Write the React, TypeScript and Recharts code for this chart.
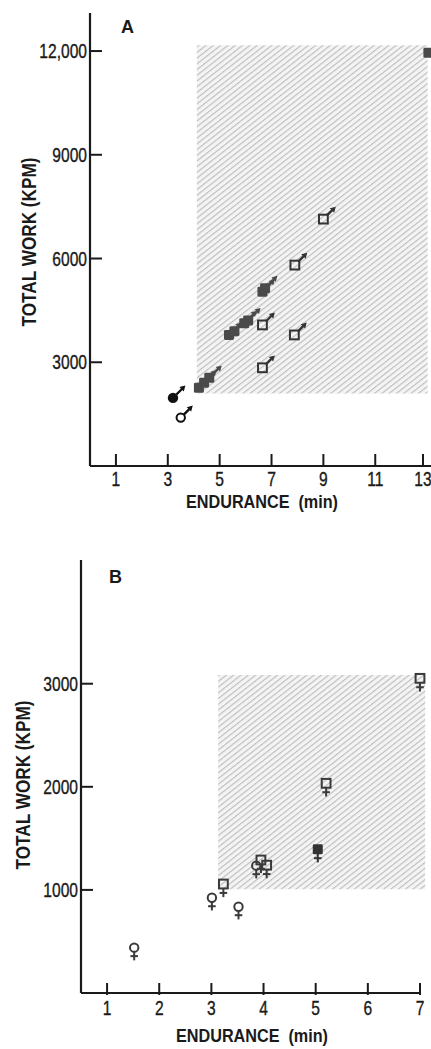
import { ScatterChart, Scatter, XAxis, YAxis, ReferenceArea } from 'recharts';

const FONT = "'Liberation Sans', Arial, sans-serif";
const INK = '#1a1a1a';
const DARK = '#4a4a4a';
const SQUEEZE = 0.78; // the printed type is condensed

// Panel A (men)
const aFilledSquares = [
  { x: 4.2, y: 2260 }, { x: 4.4, y: 2410 }, { x: 4.6, y: 2550 },
  { x: 5.36, y: 3790 }, { x: 5.57, y: 3900 },
  { x: 5.95, y: 4130 }, { x: 6.1, y: 4210 },
  { x: 6.65, y: 5040 }, { x: 6.75, y: 5140 },
  { x: 13.05, y: 11950 },
];
const aOpenSquares = [
  { x: 6.65, y: 4080 }, { x: 6.65, y: 2840 }, { x: 7.88, y: 3790 },
  { x: 7.9, y: 5810 }, { x: 9.0, y: 7140 },
];
const aFilledCircles = [{ x: 3.2, y: 1970 }];
const aOpenCircles = [{ x: 3.5, y: 1400 }];
const aXTicks = [1, 3, 5, 7, 9, 11, 13];
const aYTicks = [3000, 6000, 9000, 12000];
const aShade = { x1: 4.12, x2: 13.02, y1: 2100, y2: 12170 };

// Panel B (women)
const bOpenCircles = [
  { x: 1.52, y: 440 }, { x: 3.01, y: 924 }, { x: 3.52, y: 837 }, { x: 3.86, y: 1235 },
];
const bOpenSquares = [
  { x: 3.23, y: 1057 }, { x: 3.95, y: 1290 }, { x: 4.06, y: 1240 },
  { x: 5.2, y: 2034 }, { x: 7.0, y: 3052 },
];
const bFilledSquares = [{ x: 5.04, y: 1394 }];
const bXTicks = [1, 2, 3, 4, 5, 6, 7];
const bYTicks = [1000, 2000, 3000];
const bShade = { x1: 3.13, x2: 7.1, y1: 1006, y2: 3084 };

const fmt = (v: number) => (v >= 10000 ? v.toLocaleString('en-US') : String(v));

function YTick(props: any) {
  const { x, y, payload } = props;
  const ax = x + 3;
  return (
    <g>
      <line x1={ax} y1={y} x2={ax + 12} y2={y} stroke={INK} strokeWidth={2} />
      <text
        transform={`translate(${x},${y}) scale(${SQUEEZE},1)`}
        dy="0.36em"
        textAnchor="end"
        fontSize={20}
        fontFamily={FONT}
        fill={INK}
        stroke={INK}
        strokeWidth={0.35}
      >
        {fmt(payload.value)}
      </text>
    </g>
  );
}

function XTick(props: any) {
  const { x, y, payload } = props;
  const ay = y - 6;
  return (
    <g>
      <line x1={x} y1={ay} x2={x} y2={ay - 12} stroke={INK} strokeWidth={2} />
      <text
        transform={`translate(${x},${y}) scale(${SQUEEZE},1)`}
        dy="0.71em"
        textAnchor="middle"
        fontSize={20}
        fontFamily={FONT}
        fill={INK}
        stroke={INK}
        strokeWidth={0.35}
      >
        {payload.value}
      </text>
    </g>
  );
}

function Arrow({ x, y, color }: { x: number; y: number; color: string }) {
  return (
    <g>
      <line x1={x} y1={y} x2={x + 5.5} y2={y - 5.5} stroke={color} strokeWidth={2.4} />
      <path d={`M${x + 9},${y - 9} L${x + 3},${y - 7.4} L${x + 7.4},${y - 3} Z`} fill={color} />
    </g>
  );
}

function Cross({ x, y, color }: { x: number; y: number; color: string }) {
  return (
    <g stroke={color} strokeWidth={2}>
      <line x1={x} y1={y} x2={x} y2={y + 8.5} />
      <line x1={x - 3.8} y1={y + 4.3} x2={x + 3.8} y2={y + 4.3} />
    </g>
  );
}

type Head = 'sqFilled' | 'sqOpen' | 'circFilled' | 'circOpen';

function marker(head: Head, sex: 'm' | 'f', color: string) {
  return (p: any) => {
    const { cx, cy } = p;
    const h = head === 'circOpen' ? 4.2 : 4.6;
    let shape;
    if (head === 'sqFilled') {
      shape = <rect x={cx - 5} y={cy - 5} width={10} height={10} rx={1.4} fill={color} />;
    } else if (head === 'sqOpen') {
      shape = <rect x={cx - 4.4} y={cy - 4.4} width={8.8} height={8.8} fill="none" stroke={color} strokeWidth={2} />;
    } else if (head === 'circFilled') {
      shape = <circle cx={cx} cy={cy} r={5.2} fill={color} />;
    } else {
      shape = <circle cx={cx} cy={cy} r={4.2} fill="none" stroke={color} strokeWidth={2} />;
    }
    return (
      <g>
        {shape}
        {sex === 'm' ? (
          <Arrow x={cx + h - 1.2} y={cy - h + 1.2} color={color} />
        ) : (
          <Cross x={cx} y={cy + h} color={color} />
        )}
      </g>
    );
  };
}

function Hatch({ id }: { id: string }) {
  return (
    <defs>
      <pattern id={id} patternUnits="userSpaceOnUse" width={4.5} height={4.5} patternTransform="rotate(-38)">
        <rect width={4.5} height={4.5} fill="#f4f4f4" />
        <line x1={0} y1={0.6} x2={4.5} y2={0.6} stroke="#b6b6b6" strokeWidth={1} />
      </pattern>
    </defs>
  );
}

function Title({ x, y, text, vertical }: { x: number; y: number; text: string; vertical?: boolean }) {
  const rot = vertical ? ' rotate(-90)' : '';
  return (
    <text
      transform={`translate(${x},${y})${rot} scale(${vertical ? 0.86 : 0.9},1)`}
      textAnchor="middle"
      dominantBaseline={vertical ? 'central' : 'auto'}
      fontSize={vertical ? 20 : 18}
      fontWeight="bold"
      style={{ whiteSpace: 'pre' }}
    >
      {text}
    </text>
  );
}

const axisLine = { stroke: INK, strokeWidth: 2.2 };

export default function App() {
  return (
    <div style={{ position: 'absolute', left: 0, top: 0, width: 431, height: 1049, background: '#fff' }}>
      <div style={{ position: 'absolute', left: 0, top: 0 }}>
        <ScatterChart width={431} height={520} margin={{ top: 13, right: 0, bottom: 0, left: 0 }}>
          <Hatch id="hatchA" />
          <XAxis
            type="number"
            dataKey="x"
            domain={[0, 13.15]}
            ticks={aXTicks}
            height={54}
            tickSize={0}
            tickMargin={6}
            tickLine={false}
            tick={<XTick />}
            axisLine={axisLine}
          />
          <YAxis
            type="number"
            dataKey="y"
            domain={[0, 13100]}
            ticks={aYTicks}
            width={90}
            tickSize={0}
            tickMargin={3}
            tickLine={false}
            tick={<YTick />}
            axisLine={axisLine}
          />
          <ReferenceArea {...aShade} fill="url(#hatchA)" fillOpacity={1} stroke="none" ifOverflow="visible" />
          <Scatter data={aFilledSquares} shape={marker('sqFilled', 'm', DARK)} isAnimationActive={false} />
          <Scatter data={aOpenSquares} shape={marker('sqOpen', 'm', '#333')} isAnimationActive={false} />
          <Scatter data={aFilledCircles} shape={marker('circFilled', 'm', '#111')} isAnimationActive={false} />
          <Scatter data={aOpenCircles} shape={marker('circOpen', 'm', '#111')} isAnimationActive={false} />
        </ScatterChart>
      </div>
      <div style={{ position: 'absolute', left: 0, top: 520 }}>
        <ScatterChart width={431} height={529} margin={{ top: 40, right: 11, bottom: 0, left: 0 }}>
          <Hatch id="hatchB" />
          <XAxis
            type="number"
            dataKey="x"
            domain={[0.5, 7]}
            ticks={bXTicks}
            height={56}
            tickSize={0}
            tickMargin={8}
            tickLine={false}
            tick={<XTick />}
            axisLine={axisLine}
          />
          <YAxis
            type="number"
            dataKey="y"
            domain={[0, 4200]}
            ticks={bYTicks}
            width={81}
            tickSize={0}
            tickMargin={3}
            tickLine={false}
            tick={<YTick />}
            axisLine={axisLine}
          />
          <ReferenceArea {...bShade} fill="url(#hatchB)" fillOpacity={1} stroke="none" ifOverflow="visible" />
          <Scatter data={bOpenCircles} shape={marker('circOpen', 'f', '#3a3a3a')} isAnimationActive={false} />
          <Scatter data={bOpenSquares} shape={marker('sqOpen', 'f', '#3a3a3a')} isAnimationActive={false} />
          <Scatter data={bFilledSquares} shape={marker('sqFilled', 'f', '#333')} isAnimationActive={false} />
        </ScatterChart>
      </div>
      <svg
        width={431}
        height={1049}
        style={{ position: 'absolute', left: 0, top: 0, pointerEvents: 'none' }}
        fontFamily={FONT}
        fill={INK}
      >
        <text x={121} y={33} fontSize={18} fontWeight="bold">A</text>
        <text x={109} y={583} fontSize={18} fontWeight="bold">B</text>
        <Title x={29} y={242} text="TOTAL WORK (KPM)" vertical />
        <Title x={262} y={508} text="ENDURANCE  (min)" />
        <Title x={23} y={785} text="TOTAL WORK (KPM)" vertical />
        <Title x={252} y={1042} text="ENDURANCE  (min)" />
      </svg>
    </div>
  );
}
